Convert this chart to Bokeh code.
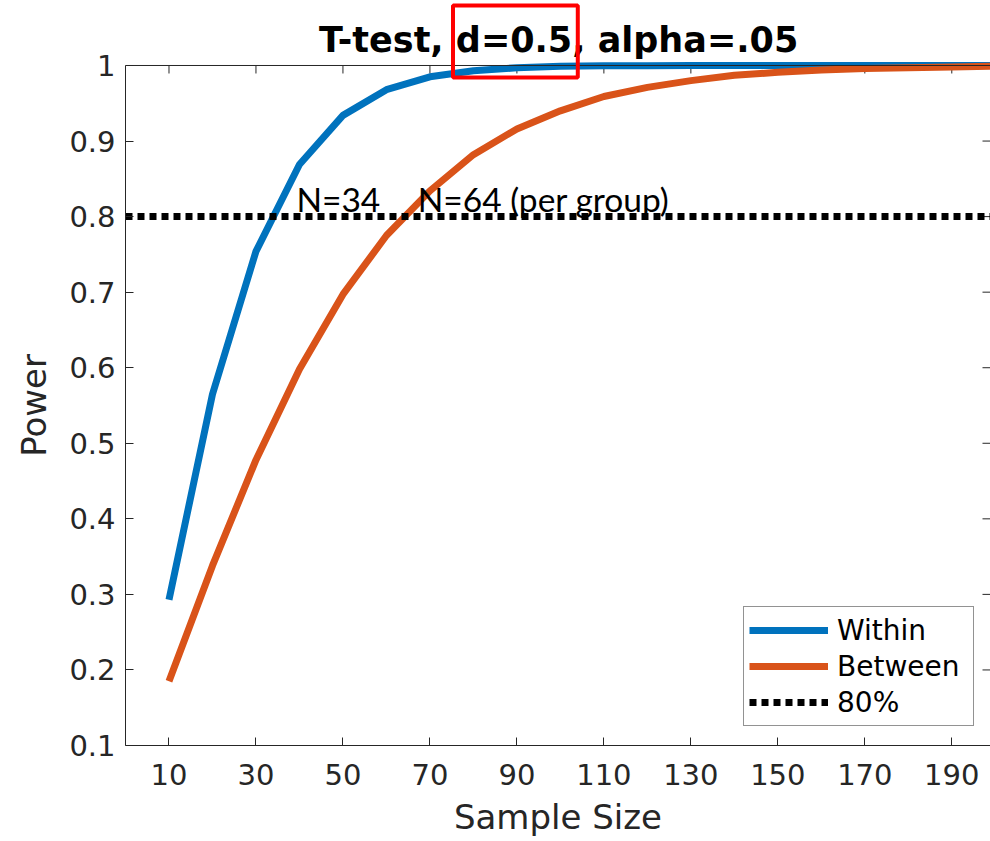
from bokeh.plotting import figure
from bokeh.models import (FixedTicker, NumeralTickFormatter, Range1d,
                          Legend, LegendItem, Label, BoxAnnotation, Span)
from bokeh.embed import file_html
from bokeh.resources import INLINE

# ---- data ----
sample_sizes = [10, 20, 30, 40, 50, 60, 70, 80, 90, 100,
                110, 120, 130, 140, 150, 160, 170, 180, 190, 200]
power_within = [0.293, 0.565, 0.754, 0.869, 0.934, 0.968, 0.985, 0.993, 0.997, 0.999,
                0.9995, 0.9998, 0.9999, 1.0, 1.0, 1.0, 1.0, 1.0, 1.0, 1.0]
power_between = [0.185, 0.338, 0.478, 0.598, 0.697, 0.775, 0.834, 0.882, 0.916, 0.940,
                 0.959, 0.971, 0.980, 0.987, 0.991, 0.994, 0.996, 0.997, 0.998, 0.999]
ref_x = [0, 200]
ref_y = [0.8, 0.8]
x_ticks = [10, 30, 50, 70, 90, 110, 130, 150, 170, 190]
y_ticks = [0.1, 0.2, 0.3, 0.4, 0.5, 0.6, 0.7, 0.8, 0.9, 1.0]
ann_x = [39.3, 67.2]
ann_y = [0.823, 0.823]
ann_text = ["N=34", "N=64 (per group)"]
series_names = ["Within", "Between", "80%"]
title_text = "T-test, d=0.5, alpha=.05"
x_label = "Sample Size"
y_label = "Power"

AX = "#262626"
BLUE = "#0072BD"
ORANGE = "#D95319"

X_MIN, X_MAX = 0, 198.9
Y_MIN, Y_MAX = 0.1, 1.0
PX_PER_UNIT = 755.6          # vertical scale of the axes box
X_PX_PER_UNIT = 4.35
TOP_EXTRA = 65 / PX_PER_UNIT  # room above the axes box for the title
TICK = 8 / PX_PER_UNIT
XTICK = 8 / X_PX_PER_UNIT

p = figure(width=990, height=841, output_backend="svg", toolbar_location=None,
           x_range=Range1d(X_MIN, X_MAX), y_range=Range1d(Y_MIN, Y_MAX + TOP_EXTRA),
           min_border_left=125, min_border_right=0, min_border_top=0, min_border_bottom=96)
p.outline_line_color = None
p.grid.visible = False
p.background_fill_color = "white"
p.border_fill_color = "white"

for ax in [p.xaxis[0], p.yaxis[0]]:
    ax.axis_line_color = AX
    ax.major_tick_line_color = AX
    ax.major_tick_in = 8
    ax.major_tick_out = 0
    ax.minor_tick_line_color = None
    ax.major_label_text_font = "DejaVu Sans"
    ax.major_label_text_font_size = "29px"
    ax.major_label_text_color = AX
    ax.axis_label_text_font = "DejaVu Sans"
    ax.axis_label_text_font_size = "34px"
    ax.axis_label_text_font_style = "normal"
    ax.axis_label_text_color = AX

p.xaxis[0].ticker = FixedTicker(ticks=x_ticks)
p.yaxis[0].ticker = FixedTicker(ticks=y_ticks)
p.yaxis[0].bounds = (Y_MIN, Y_MAX)
p.yaxis[0].formatter = NumeralTickFormatter(format="0.[0]")
p.xaxis[0].axis_label = x_label
# non-breaking padding re-centres the label on the axes box (frame extends above it)
p.yaxis[0].axis_label = y_label + "\u00a0" * 6
p.xaxis[0].major_label_standoff = 18
p.yaxis[0].major_label_standoff = 10
p.xaxis[0].axis_label_standoff = 9
p.yaxis[0].axis_label_standoff = 12

# top edge of the axes box with inward ticks, plus inward ticks on the right edge
p.add_layout(Span(location=Y_MAX, dimension="width", line_color=AX, line_width=1))
p.segment(x0=x_ticks, y0=[Y_MAX] * len(x_ticks), x1=x_ticks,
          y1=[Y_MAX - TICK] * len(x_ticks), line_color=AX, line_width=1)
p.segment(x0=[X_MAX] * len(y_ticks), y0=y_ticks, x1=[X_MAX - XTICK] * len(y_ticks),
          y1=y_ticks, line_color=AX, line_width=1)

r1 = p.line(sample_sizes, power_within, line_color=BLUE, line_width=7)
r2 = p.line(sample_sizes, power_between, line_color=ORANGE, line_width=7)
r3 = p.line(ref_x, ref_y, line_color="black", line_width=7, line_dash="7 5")

for xx, yy, tt in zip(ann_x, ann_y, ann_text):
    p.add_layout(Label(x=xx, y=yy, text=tt, text_font="Lato", text_font_size="33.5px",
                       text_color="black", text_baseline="alphabetic"))

legend = Legend(items=[LegendItem(label=series_names[0], renderers=[r1]),
                       LegendItem(label=series_names[1], renderers=[r2]),
                       LegendItem(label=series_names[2], renderers=[r3])],
                location=(618, 19), glyph_width=79, glyph_height=36, label_height=36,
                label_width=131,
                spacing=0, padding=5, margin=0, label_standoff=9,
                label_text_font="DejaVu Sans", label_text_font_size="28px",
                label_text_color="black", border_line_color=AX, border_line_width=1,
                background_fill_color="white", background_fill_alpha=1)
p.add_layout(legend, "center")

# title, drawn inside the extended frame
p.add_layout(Label(x=99.6, y=Y_MAX + 25 / PX_PER_UNIT, text=title_text,
                   text_font="DejaVu Sans", text_font_size="35px", text_font_style="bold",
                   text_color="black", text_align="center", text_baseline="middle"))

# red highlight box around "d=0.5"
p.add_layout(BoxAnnotation(left=75.3, right=104.0,
                           top=Y_MAX + 60 / PX_PER_UNIT, bottom=Y_MAX - 12 / PX_PER_UNIT,
                           fill_alpha=0, line_color="#FF0000", line_width=4, line_alpha=1))

open("out.html", "w").write(file_html(p, INLINE))
